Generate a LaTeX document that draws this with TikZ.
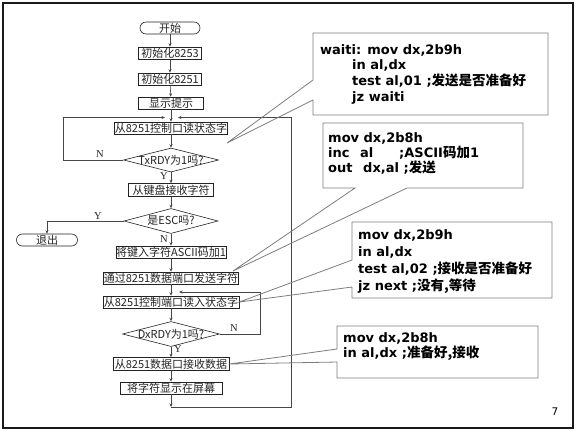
\documentclass[tikz,border=0pt]{standalone}
\usepackage{fontspec}
\usepackage{tikz}
\usetikzlibrary{arrows.meta,positioning,shapes.geometric,calc}
\setmainfont{DejaVu Sans}
\newfontfamily\cjk{Noto Sans CJK SC}
\newfontfamily\labelserif{Liberation Serif}
\newcommand{\zh}[1]{{\cjk\fontsize{13.5bp}{15bp}\selectfont #1}}
\definecolor{ink}{RGB}{35,35,35}
\definecolor{wiregray}{RGB}{70,70,70}
\definecolor{callgray}{RGB}{125,125,125}
\definecolor{frameink}{RGB}{25,25,25}
\tikzset{
  fc/.style={draw=ink,line width=0.6bp,inner xsep=0pt,inner ysep=0.5bp,minimum height=12bp,font=\cjk\fontsize{11bp}{12bp}\selectfont,text=ink},
  term/.style={fc,rounded corners=6bp},
  decide/.style={diamond,aspect=4,draw=ink,line width=0.6bp,inner sep=0pt},
  dtext/.style={inner sep=0pt,font=\cjk\fontsize{11bp}{12bp}\selectfont,text=ink},
  flow/.style={-{Stealth[length=3.5bp,width=3bp]},line width=0.6bp,draw=wiregray},
  yn/.style={inner sep=0pt,font=\labelserif\fontsize{10.5bp}{10bp}\selectfont,text=ink},
  callbox/.style={draw=callgray,line width=0.8bp,line join=miter},
  code/.style={anchor=north west,inner sep=0pt,align=left,text=black,font=\bfseries\fontsize{13bp}{15.7bp}\selectfont}
}

\begin{document}
\begin{tikzpicture}[x=1bp,y=-1bp]
\useasboundingbox (0,0) rectangle (576,432);
\draw[frameink,line width=2.5bp] (3,3) rectangle (573,428);

% flowchart
\node[term,minimum width=60bp] (start) at (170,28) {开始};
\node[fc,minimum width=63bp] (init3) at (170,53) {初始化8253};
\node[fc,minimum width=63bp] (init1) at (170,79) {初始化8251};
\node[fc,minimum width=65bp] (prompt) at (171,103) {显示提示};
\node[fc,minimum width=112bp] (readctl) at (171,128) {从8251控制口读状态字};
\node[decide,minimum width=95bp,minimum height=24bp] (txrdy) at (171,160) {};
\node[dtext] (txrdy-t) at (txrdy) {TxRDY为1吗?};
\node[fc,minimum width=85bp,minimum height=13bp] (getkey) at (171,190) {从键盘接收字符};
\node[decide,minimum width=94bp,minimum height=25bp] (isesc) at (171,221) {};
\node[dtext] (isesc-t) at (isesc) {是ESC吗?};
\node[term,minimum width=61bp,minimum height=12bp] (exit) at (47,240) {退出};
\node[fc,minimum width=110bp,minimum height=12bp] (incch) at (171,252) {将键入字符ASCII码加1};
\node[fc,minimum width=133bp] (sendch) at (171,278) {通过8251数据端口发送字符};
\node[fc,minimum width=136bp] (readst) at (171,302) {从8251控制端口读入状态字};
\node[decide,minimum width=97bp,minimum height=25bp] (rxrdy) at (171,334) {};
\node[dtext] (rxrdy-t) at (rxrdy) {DxRDY为1吗?};
\node[fc,minimum width=116bp,minimum height=13bp] (recv) at (171,364) {从8251数据口接收数据};
\node[fc,minimum width=102bp] (show) at (171,388) {将字符显示在屏幕};

\coordinate (jbot) at (171,407);

\draw[flow] (start) -- (init3);
\draw[flow] (init3) -- (init1);
\draw[flow] (init1) -- (prompt);
\draw[flow] (prompt) -- (readctl);
\draw[flow] (readctl) -- (txrdy);
\draw[flow] (txrdy) -- (getkey);
\draw[flow] (getkey) -- (isesc);
\draw[flow] (isesc) -- (incch);
\draw[flow] (incch) -- (sendch);
\draw[flow] (sendch) -- (readst);
\draw[flow] (readst) -- (rxrdy);
\draw[flow] (rxrdy) -- (recv);
\draw[flow] (recv) -- (show);
\draw[flow] (show) -- (jbot);
\draw[flow] (txrdy.west) -- (63,160) |- (165,117.5);
\draw[flow] (jbot) -- (291,407) |- (178,117.5);
\draw[flow] (isesc.west) -| (exit.north);
\draw[flow] (rxrdy.east) -- (260,334) |- (179,292);

\node[yn] (n1) at (100,154) {N};
\node[yn] (y1) at (164,176) {Y};
\node[yn] (y2) at (98,216) {Y};
\node[yn] (n2) at (164,239) {N};
\node[yn] (n3) at (234,328) {N};
\node[yn] (y3) at (178,349) {Y};

% callouts
\coordinate (tip1) at (227,143);
\coordinate (tip2) at (233,271);
\coordinate (tip3) at (readst.east);
\coordinate (tip4) at (recv.east);
\draw[callbox] (313,80) -- (313,33) -- (548,33) -- (548,115) -- (313,115) -- (313,100) -- (tip1) -- cycle;
\draw[callbox] (355,188) -- (323,188) -- (323,123) -- (523,123) -- (523,188) -- (407,188) -- (tip2) -- cycle;
\draw[callbox] (352,260) -- (352,222) -- (552,222) -- (552,298) -- (352,298) -- (352,287) -- (tip3) -- cycle;
\draw[callbox] (337,349) -- (337,326) -- (538,326) -- (538,378) -- (337,378) -- (337,362) -- (tip4) -- cycle;

\node[code] (code1) at (320,44) {waiti: mov dx,2b9h\\
\hspace*{32bp}in al,dx\\
\hspace*{32bp}test al,01 ;\zh{发送是否准备好}\\
\hspace*{32bp}jz waiti};
\node[code,font=\bfseries\fontsize{13bp}{15bp}\selectfont] (code2) at (328,132) {mov dx,2b8h\\
\makebox[32bp][l]{inc}\makebox[39bp][l]{al};ASCII\zh{码加}1\\
\makebox[35bp][l]{out}dx,al ;\zh{发送}};
\node[code,font=\bfseries\fontsize{13bp}{17.3bp}\selectfont] (code3) at (358,229) {mov dx,2b9h\\
in al,dx\\
test al,02 ;\zh{接收是否准备好}\\
jz next ;\zh{没有,等待}};
\node[code,font=\bfseries\fontsize{13bp}{15bp}\selectfont] (code4) at (343,332) {mov dx,2b8h\\
in al,dx ;\zh{准备好,接收}};

\node[inner sep=0pt,font=\fontsize{10.5bp}{10bp}\selectfont] (pgno) at (555,412) {7};
\end{tikzpicture}
\end{document}
